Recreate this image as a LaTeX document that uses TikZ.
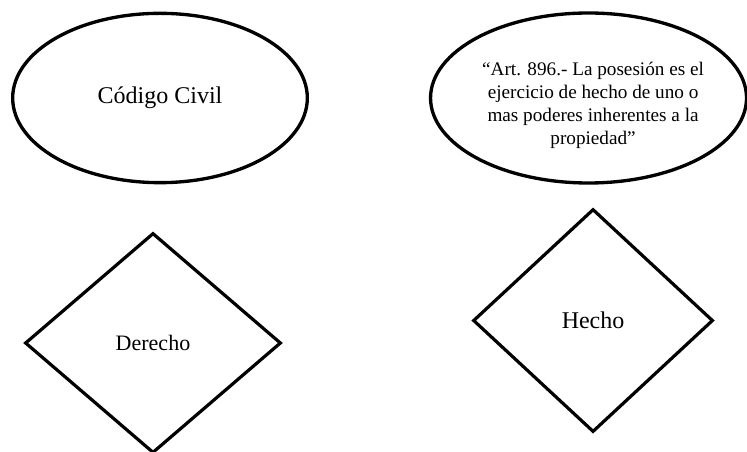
\documentclass[tikz,border=0pt]{standalone}
\usepackage{fontspec}
\setmainfont{Liberation Serif}
\usetikzlibrary{shapes.geometric,positioning}
\tikzstyle{elipse} = [draw, ellipse, line width=2.5pt, inner sep=0pt]
\tikzstyle{rombo} = [draw, diamond, line width=2.4pt, inner sep=0pt, line join=miter]
\tikzstyle{cita} = [align=center, inner sep=0pt, font=\fontsize{14.4}{17.25}\selectfont]

\begin{document}
\begin{tikzpicture}[auto, node distance=2cm]
\useasboundingbox (0,0) rectangle (560.25pt,-339pt);

\node [elipse, minimum width=221pt, minimum height=127pt, font=\fontsize{18}{22}\selectfont] (codigo) at (120pt,-73.5pt) {Código Civil};
\node [elipse, minimum width=237pt, minimum height=127.5pt, right of=codigo, node distance=321.4pt] (articulo) {};
\node [cita, xshift=3.4pt, yshift=-5.25pt] (textoart) at (articulo) {“Art. 896.- La posesión es el\\ejercicio de hecho de uno o\\mas poderes inherentes a la\\propiedad”};

\node [rombo, minimum width=192pt, minimum height=165pt, below of=codigo, node distance=183.75pt, xshift=-5.25pt, font=\fontsize{16.5}{20}\selectfont] (derecho) {Derecho};
\node [rombo, minimum width=180pt, minimum height=167.25pt, below of=articulo, node distance=166.9pt, xshift=3.4pt, font=\fontsize{18}{22}\selectfont] (hecho) {Hecho};

\end{tikzpicture}
\end{document}
